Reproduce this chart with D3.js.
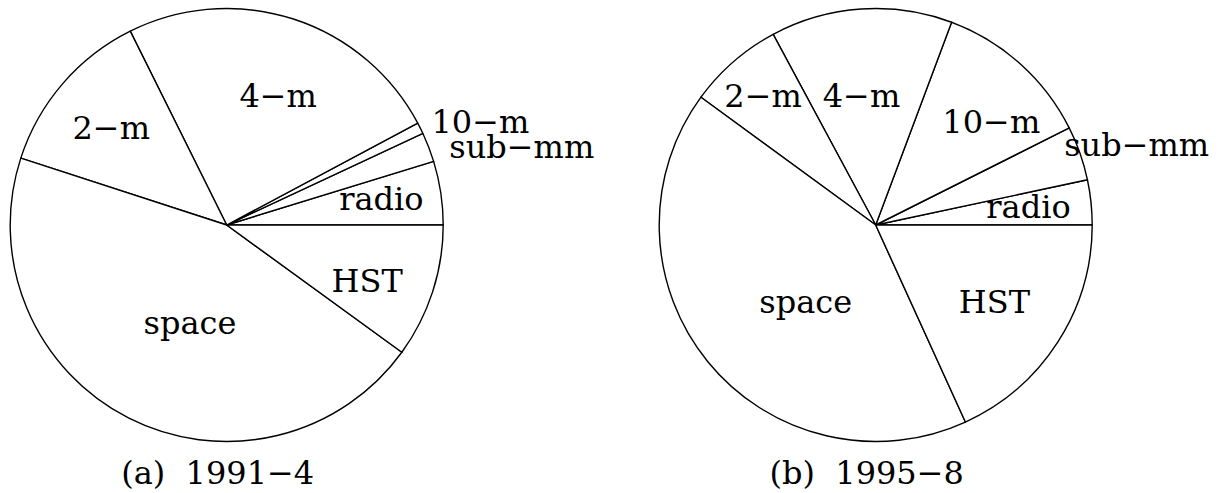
<!DOCTYPE html>
<html>
<head>
<meta charset="utf-8">
<script src="https://cdn.jsdelivr.net/npm/d3@7"></script>
<style>
  body { margin: 0; background: #fff; }
  svg text { font-family: "DejaVu Serif", serif; font-size: 32px; fill: #000; white-space: pre; }
</style>
</head>
<body>
<svg></svg>
<script>
// slice order goes anticlockwise from 3 o'clock
let categories = ["radio", "sub\u2212mm", "10\u2212m", "4\u2212m", "2\u2212m", "space", "HST"];
// share of time (%)
let values1991 = [4.75, 2.2, 0.85, 24.55, 12.65, 45.0, 10.0];
let values1995 = [3.35, 4.05, 11.9, 13.55, 7.1, 41.85, 18.2];
let titles = ["(a)  1991\u22124", "(b)  1995\u22128"];

// label placement: [angle nudge in degrees, radius as fraction of R]
let labelLayout1991 = [[1.1, 0.725], [-6.2, 1.41], [-4.4, 1.265], [-4, 0.642], [0.6, 0.698], [6.3, 0.48], [-3.4, 0.697]];
let labelLayout1995 = [[0.9, 0.711], [-2.3, 1.261], [-6.2, 0.717], [2.4, 0.6], [0, 0.792], [8.3, 0.478], [0, 0.652]];

let width = 1219;
let height = 493;
let radius = 216.5;
let centers = [[226.7, 225], [875.7, 225]];

let svg = d3.select("svg")
  .attr("width", width)
  .attr("height", height);

// anticlockwise from 3 o'clock
let pie = d3.pie()
  .sort(null)
  .startAngle(Math.PI / 2)
  .endAngle(Math.PI / 2 - 2 * Math.PI);

let arc = d3.arc()
  .innerRadius(0)
  .outerRadius(radius);

let drawPie = function(values, layout, title, center) {
  let g = svg.append("g")
    .attr("transform", "translate(" + center[0] + "," + center[1] + ")");

  let arcs = pie(values);

  g.selectAll("path")
    .data(arcs)
    .enter()
    .append("path")
    .attr("d", arc)
    .attr("fill", "#fff")
    .attr("stroke", "#000")
    .attr("stroke-width", 1.4)
    .attr("stroke-linejoin", "round");

  // angle of the label in math convention (0 = east, anticlockwise)
  let labelAngle = (d, i) => Math.PI / 2 - (d.startAngle + d.endAngle) / 2 + layout[i][0] * Math.PI / 180;

  g.selectAll("text.label")
    .data(arcs)
    .enter()
    .append("text")
    .attr("class", "label")
    .attr("text-anchor", "middle")
    .attr("dy", "0.36em")
    .attr("x", (d, i) => radius * layout[i][1] * Math.cos(labelAngle(d, i)))
    .attr("y", (d, i) => -radius * layout[i][1] * Math.sin(labelAngle(d, i)))
    .text((d, i) => categories[i]);

  g.append("text")
    .attr("text-anchor", "middle")
    .attr("x", -9)
    .attr("y", 259)
    .text(title);
}

drawPie(values1991, labelLayout1991, titles[0], centers[0]);
drawPie(values1995, labelLayout1995, titles[1], centers[1]);
</script>
</body>
</html>
